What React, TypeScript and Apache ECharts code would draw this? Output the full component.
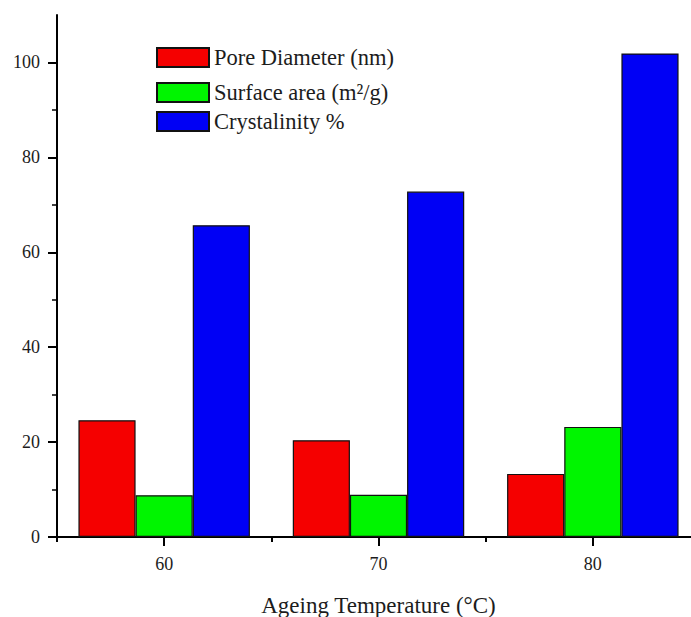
import React, { useEffect, useRef } from 'react';
import * as echarts from 'echarts';

const categories = ['60', '70', '80'];
const seriesNames = ['Pore Diameter (nm)', 'Surface area (m²/g)', 'Crystalinity %'];
const poreDiameter = [24.6, 20.4, 13.3];
const surfaceArea = [8.8, 8.9, 23.2];
const crystallinity = [65.7, 72.8, 101.9];
const yMajorTicks = [0, 20, 40, 60, 80, 100];
const yMinorTicks = [10, 30, 50, 70, 90];
const colors = ['#f50000', '#00f500', '#0000f5'];

const FONT = "'Liberation Serif', 'Times New Roman', serif";
const TEXT = '#1c1c1c';

export default function App() {
  const ref = useRef<HTMLDivElement>(null);
  useEffect(() => {
    if (!ref.current) return;
    const chart = echarts.init(ref.current, undefined, { renderer: 'svg' });
    const values = [poreDiameter, surfaceArea, crystallinity];
    const legendTops = [46, 81, 110];
    chart.setOption({
      animation: false,
      backgroundColor: '#ffffff',
      textStyle: { fontFamily: FONT },
      grid: { left: 57, top: 15, width: 643, height: 522, outerBoundsMode: 'none', containLabel: false },
      legend: seriesNames.map((n, i) => ({
        data: [n],
        left: 156,
        top: legendTops[i],
        padding: 0,
        icon: 'rect',
        itemWidth: 52,
        itemHeight: 19,
        selectedMode: false,
        textStyle: { fontFamily: FONT, fontSize: 22.5, color: TEXT, lineHeight: 22 },
      })),
      xAxis: [
        {
          type: 'category',
          data: categories,
          name: 'Ageing Temperature (°C)',
          nameLocation: 'middle',
          nameGap: 57,
          nameTextStyle: { fontFamily: FONT, fontSize: 23, color: TEXT },
          axisLine: { show: true, lineStyle: { color: '#000', width: 2 } },
          axisTick: { show: true, length: 5, lineStyle: { color: '#000', width: 2 } },
          axisLabel: { margin: 18, fontFamily: FONT, fontSize: 18, color: TEXT },
          splitLine: { show: false },
        },
        {
          type: 'category',
          data: categories,
          position: 'bottom',
          axisLine: { show: false },
          axisTick: { show: true, alignWithLabel: true, length: 9, lineStyle: { color: '#000', width: 2 } },
          axisLabel: { show: false },
          splitLine: { show: false },
        },
      ],
      yAxis: [
        {
          type: 'value',
          min: 0,
          max: 110,
          interval: 20,
          axisLine: { show: true, lineStyle: { color: '#000', width: 2 } },
          axisTick: { show: true, length: 9, customValues: yMajorTicks, lineStyle: { color: '#000', width: 2 } },
          axisLabel: { margin: 17, customValues: yMajorTicks, fontFamily: FONT, fontSize: 18, color: TEXT },
          splitLine: { show: false },
        },
        {
          type: 'value',
          min: 0,
          max: 110,
          interval: 20,
          position: 'left',
          axisLine: { show: false },
          axisTick: { show: true, length: 5, customValues: yMinorTicks, lineStyle: { color: '#000', width: 1.5 } },
          axisLabel: { show: false },
          splitLine: { show: false },
        },
      ],
      series: seriesNames.map((n, i) => ({
        name: n,
        type: 'bar',
        xAxisIndex: 0,
        yAxisIndex: 0,
        data: values[i],
        barGap: '0%',
        barCategoryGap: '20%',
        itemStyle: { color: colors[i], borderColor: '#111', borderWidth: 1.2 },
      })),
    });
    return () => chart.dispose();
  }, []);
  return (
    <div style={{ position: 'fixed', left: 0, top: 0, width: 691, height: 617, overflow: 'hidden', background: '#fff' }}>
      <div ref={ref} style={{ width: 710, height: 617 }} />
    </div>
  );
}
